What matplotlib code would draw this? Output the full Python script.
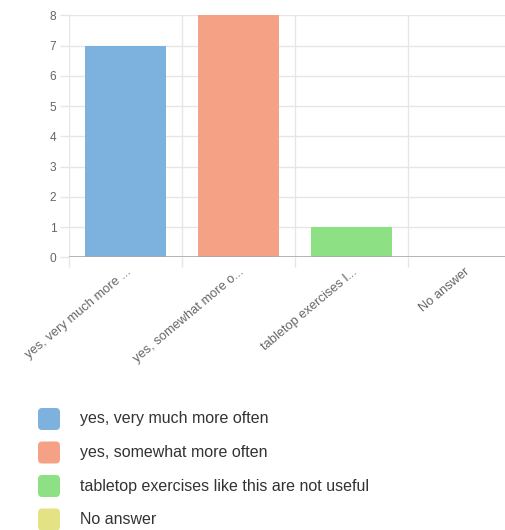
import matplotlib
matplotlib.use("Agg")
import matplotlib.pyplot as plt
from matplotlib.patches import FancyBboxPatch

plt.rcParams['font.family'] = ['Liberation Sans', 'DejaVu Sans']

# answers and counts
categories = ["yes, very much more often", "yes, somewhat more often",
              "tabletop exercises like this are not useful", "No answer"]
tick_labels = ["yes, very much more ...", "yes, somewhat more o...",
               "tabletop exercises l...", "No answer"]
counts = [7, 8, 1, 0]
colors = ["#7db2de", "#f4a185", "#8de184", "#e3e385"]

W, H = 506, 530
fig = plt.figure(figsize=(W / 100, H / 100), dpi=100)

# plot area runs past the right edge of the canvas
ax = fig.add_axes([69 / W, 272.7 / H, 452 / W, 242 / H])
xs = list(range(len(categories)))
ax.bar(xs, counts, width=0.72, color=colors, zorder=3)

ax.set_xlim(-0.5, len(categories) - 0.5)
ax.set_ylim(0, 8)
ax.set_yticks(range(0, 9))
ax.set_xticks(xs)
ax.set_xticklabels(tick_labels, rotation=40, ha='right', va='top',
                   rotation_mode='anchor', color='#666666', fontsize=9.3)
ax.set_xticks([x - 0.5 for x in xs] + [len(xs) - 0.5], minor=True)

for s in ax.spines.values():
    s.set_visible(False)
ax.axhline(0, color='#a8a8a8', lw=1.2, zorder=4)

ax.grid(True, axis='y', color='#e6e6e6', lw=1, zorder=0)
ax.grid(True, axis='x', which='minor', color='#e6e6e6', lw=1, zorder=0)
ax.tick_params(axis='x', which='major', length=0, pad=6)
ax.tick_params(axis='x', which='minor', length=7.5, color='#e6e6e6', width=1)
ax.tick_params(axis='y', length=6.5, color='#e6e6e6', width=1, pad=2.5,
               labelcolor='#666666', labelsize=8.6)

# legend with rounded swatches
row_y = [419, 452.5, 486, 519.5]
for cy, lab, c in zip(row_y, categories, colors):
    box = FancyBboxPatch((38 / W, (H - cy - 11) / H), 22 / W, 22 / H,
                         boxstyle="round,pad=0,rounding_size=0.008",
                         transform=fig.transFigure, facecolor=c,
                         edgecolor='none')
    fig.patches.append(box)
    fig.text(80 / W, (H - cy) / H, lab, va='center', ha='left',
             fontsize=11.5, color='#333333')

fig.savefig("out.png", dpi=100)
